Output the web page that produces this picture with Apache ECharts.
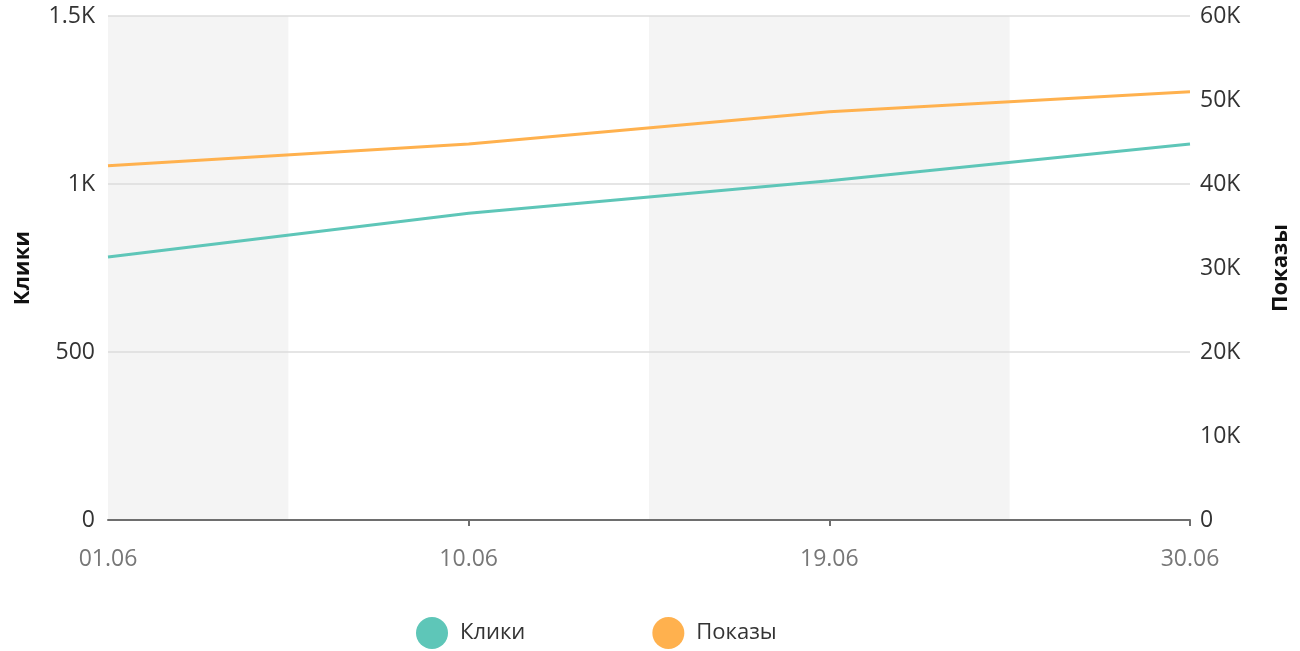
<!DOCTYPE html>
<html>
<head>
<meta charset="utf-8">
<script src="https://cdn.jsdelivr.net/npm/echarts@6/dist/echarts.min.js"></script>
<style>
  html, body { margin: 0; padding: 0; background: #fff; }
  #chart { width: 1300px; height: 651px; }
</style>
</head>
<body>
<div id="chart"></div>
<script>
  // данные графика
  var days = ['01.06', '10.06', '19.06', '30.06']
  var clicks = [783, 913, 1010, 1119]
  var shows = [42180, 44760, 48610, 50990]
  // полосы фона идут от середины до середины между датами
  var bandSteps = ['01.06', '', '10.06', ' ', '19.06', '  ', '30.06']
  var bandEdges = [0, 1, 3, 5, 6]

  var font = 'Open Sans'

  function kFormat(v) {
    if (v >= 1000) return (v / 1000) + 'K'
    return String(v)
  }

  var chart = echarts.init(document.getElementById('chart'))
  chart.setOption({
    animation: false,
    textStyle: { fontFamily: font },
    grid: {
      left: 108,
      right: 110,
      top: 16,
      bottom: 131,
      outerBoundsMode: 'none',
      containLabel: false
    },
    legend: {
      data: ['Клики', 'Показы'],
      left: 411,
      top: 612,
      icon: 'circle',
      itemWidth: 32,
      itemHeight: 32,
      itemGap: 127,
      textStyle: { fontSize: 22, color: '#333', fontFamily: font, padding: [0, 0, 0, 7] }
    },
    xAxis: [{
      type: 'category',
      data: days,
      boundaryGap: false,
      axisLine: { lineStyle: { color: '#6e6e6e', width: 2 } },
      axisTick: {
        show: true,
        length: 6,
        interval: function (index) { return index > 0 },
        lineStyle: { color: '#6e6e6e', width: 2 }
      },
      axisLabel: { color: '#777', fontSize: 23, margin: 28, fontFamily: font },
      splitLine: { show: false },
      z: 5
    }, {
      type: 'category',
      data: bandSteps,
      boundaryGap: false,
      position: 'bottom',
      axisLine: { show: false },
      axisTick: { show: false },
      axisLabel: { show: false },
      splitLine: { show: false },
      splitArea: {
        show: true,
        interval: function (index) {
          return bandEdges.indexOf(index) >= 0
        },
        areaStyle: { color: ['#f4f4f4', 'rgba(255,255,255,0)'] }
      },
      z: 0
    }],
    yAxis: [{
      type: 'value',
      name: 'Клики',
      nameLocation: 'middle',
      nameGap: 74,
      nameTextStyle: { fontSize: 22, fontWeight: 'bold', color: '#111', fontFamily: font },
      min: 0,
      max: 1500,
      interval: 500,
      axisLine: { show: false },
      axisTick: { show: false },
      axisLabel: { color: '#333', fontSize: 23, margin: 13, formatter: kFormat, fontFamily: font },
      splitLine: { lineStyle: { color: '#dcdcdc', width: 1.5 } },
      z: 2
    }, {
      type: 'value',
      name: 'Показы',
      nameLocation: 'middle',
      nameGap: 80,
      nameTextStyle: { fontSize: 22, fontWeight: 'bold', color: '#111', fontFamily: font },
      min: 0,
      max: 60000,
      interval: 10000,
      position: 'right',
      axisLine: { show: false },
      axisTick: { show: false },
      axisLabel: { color: '#333', fontSize: 23, margin: 10, formatter: kFormat, fontFamily: font },
      splitLine: { show: false },
      z: 2
    }],
    series: [{
      name: 'Клики',
      type: 'line',
      xAxisIndex: 0,
      yAxisIndex: 0,
      data: clicks,
      showSymbol: false,
      symbol: 'none',
      itemStyle: { color: '#5ec6b8' },
      lineStyle: { color: '#5ec6b8', width: 3 }
    }, {
      name: 'Показы',
      type: 'line',
      xAxisIndex: 0,
      yAxisIndex: 1,
      data: shows,
      showSymbol: false,
      symbol: 'none',
      itemStyle: { color: '#ffb14e' },
      lineStyle: { color: '#ffb14e', width: 3 }
    }]
  })
</script>
</body>
</html>
